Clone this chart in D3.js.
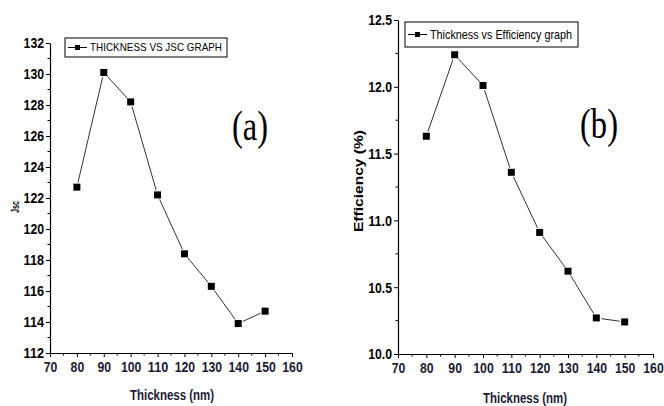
<!DOCTYPE html>
<html>
<head>
<meta charset="utf-8">
<script src="https://cdn.jsdelivr.net/npm/d3@7"></script>
<style>
  body { margin: 0; background: #fff; }
  svg text { font-family: "Liberation Sans", Arial, sans-serif; }
</style>
</head>
<body>
<svg id="chart" width="664" height="406"></svg>
<script>
// Two side-by-side line plots: Jsc and efficiency vs absorber thickness.

const thickness = [80, 90, 100, 110, 120, 130, 140, 150];
const jscValues = [122.7, 130.1, 128.2, 122.2, 118.4, 116.3, 113.9, 114.7];
const effValues = [11.63, 12.24, 12.01, 11.36, 10.91, 10.62, 10.27, 10.24];
const xTicks = [70, 80, 90, 100, 110, 120, 130, 140, 150, 160];
const jscTicks = [112, 114, 116, 118, 120, 122, 124, 126, 128, 130, 132];
const effTicks = [10.0, 10.5, 11.0, 11.5, 12.0, 12.5];

const svg = d3.select("#chart");

// squeeze text horizontally to mimic the narrow font of the original
const narrowLen = s => s.split("").reduce((w, c) => w + (c === "." ? 3.4 : 6.8), 0);

const panels = [
  {
    values: jscValues, yTicks: jscTicks, yDomain: [112, 132], fmt: d3.format("d"),
    xRange: [50, 292], yRange: [353, 43],
    yTitle: "Jsc", yTitleX: 15, yTitleY: 207, yTitleSize: 11, yTitleLen: 12,
    xTitleX: 172, xTitleY: 400,
    legend: { x: 65, y: 38, w: 162, h: 19, text: "THICKNESS VS JSC GRAPH", size: 11, len: 132 },
    tag: { text: "(a)", x: 250, y: 140, len: 36 },
    minorY: 1
  },
  {
    values: effValues, yTicks: effTicks, yDomain: [10, 12.5], fmt: d3.format(".1f"),
    xRange: [398, 653], yRange: [354, 20],
    yTitle: "Efficiency (%)", yTitleX: 358, yTitleY: 181, yTitleSize: 13, yTitleLen: 102,
    xTitleX: 525, xTitleY: 403,
    legend: { x: 405, y: 22, w: 173, h: 25, text: "Thickness vs Efficiency graph", size: 13, len: 142 },
    tag: { text: "(b)", x: 599, y: 138, len: 38 },
    minorY: 0.25
  }
];

panels.forEach(p => {
  const x = d3.scaleLinear().domain([70, 160]).range(p.xRange);
  const y = d3.scaleLinear().domain(p.yDomain).range(p.yRange);
  const g = svg.append("g");
  const x0 = p.xRange[0], yb = p.yRange[0];

  // minor ticks
  const xMinor = d3.range(75, 160, 10);
  g.selectAll(".xm").data(xMinor).join("line")
    .attr("x1", d => x(d)).attr("x2", d => x(d))
    .attr("y1", yb).attr("y2", yb + 2.5)
    .attr("stroke", "#000").attr("stroke-width", 1);
  const yMinor = p.yTicks.slice(0, -1).map(d => d + p.minorY);
  g.selectAll(".ym").data(yMinor).join("line")
    .attr("x1", x0 - 2.5).attr("x2", x0)
    .attr("y1", d => y(d)).attr("y2", d => y(d))
    .attr("stroke", "#000").attr("stroke-width", 1);

  // axes
  const xAxis = g.append("g").attr("transform", `translate(0,${yb})`)
    .call(d3.axisBottom(x).tickValues(xTicks).tickSize(4).tickSizeOuter(0).tickPadding(4));
  const yAxis = g.append("g").attr("transform", `translate(${x0},0)`)
    .call(d3.axisLeft(y).tickValues(p.yTicks).tickFormat(p.fmt).tickSize(4).tickSizeOuter(0).tickPadding(2));
  [xAxis, yAxis].forEach(a => {
    a.select(".domain").attr("stroke", "#000").attr("stroke-width", 1.2);
    a.selectAll(".tick line").attr("stroke", "#000").attr("stroke-width", 1);
    a.selectAll("text").attr("fill", "#000").attr("font-size", 15).attr("font-weight", "bold")
      .attr("textLength", function() { return narrowLen(this.textContent); })
      .attr("lengthAdjust", "spacingAndGlyphs");
  });
  xAxis.selectAll("text").attr("fill", "#1a1a33");

  // connecting line segments with gaps near the markers
  const pts = thickness.map((t, i) => [x(t), y(p.values[i])]);
  const gap = 5;
  const segs = d3.pairs(pts).map(([a, b]) => {
    const dx = b[0] - a[0], dy = b[1] - a[1], L = Math.hypot(dx, dy);
    return [a[0] + dx / L * gap, a[1] + dy / L * gap, b[0] - dx / L * gap, b[1] - dy / L * gap];
  });
  g.selectAll(".seg").data(segs).join("line")
    .attr("x1", d => d[0]).attr("y1", d => d[1]).attr("x2", d => d[2]).attr("y2", d => d[3])
    .attr("stroke", "#333").attr("stroke-width", 1);

  g.selectAll(".pt").data(pts).join("rect")
    .attr("x", d => d[0] - 3.5).attr("y", d => d[1] - 3.5)
    .attr("width", 7).attr("height", 7).attr("fill", "#000");

  // legend
  const L = p.legend;
  g.append("rect").attr("x", L.x).attr("y", L.y).attr("width", L.w).attr("height", L.h)
    .attr("fill", "#fff").attr("stroke", "#000").attr("stroke-width", 1);
  const ly = L.y + L.h / 2;
  g.append("line").attr("x1", L.x + 3).attr("x2", L.x + 22).attr("y1", ly).attr("y2", ly)
    .attr("stroke", "#000").attr("stroke-width", 1);
  g.append("rect").attr("x", L.x + 10).attr("y", ly - 2.5).attr("width", 5).attr("height", 5).attr("fill", "#000");
  g.append("text").attr("x", L.x + 25).attr("y", ly + L.size * 0.36)
    .attr("font-size", L.size).attr("fill", "#000")
    .attr("textLength", L.len).attr("lengthAdjust", "spacingAndGlyphs").text(L.text);

  // titles
  g.append("text").attr("x", p.xTitleX).attr("y", p.xTitleY).attr("text-anchor", "middle")
    .attr("font-size", 14).attr("font-weight", "bold").attr("fill", "#1a1a33")
    .attr("textLength", 84).attr("lengthAdjust", "spacingAndGlyphs").text("Thickness (nm)");
  g.append("text")
    .attr("transform", `translate(${p.yTitleX},${p.yTitleY}) rotate(-90)`)
    .attr("text-anchor", "middle").attr("dy", "0.35em")
    .attr("font-size", p.yTitleSize).attr("font-weight", "bold").attr("fill", "#000")
    .attr("textLength", p.yTitleLen).attr("lengthAdjust", "spacingAndGlyphs").text(p.yTitle);

  g.append("text").attr("x", p.tag.x).attr("y", p.tag.y).attr("text-anchor", "middle")
    .attr("textLength", p.tag.len).attr("lengthAdjust", "spacingAndGlyphs")
    .style("font-family", "'Liberation Serif', 'Times New Roman', serif")
    .attr("font-size", 42).attr("fill", "#000").text(p.tag.text);
});
</script>
</body>
</html>
